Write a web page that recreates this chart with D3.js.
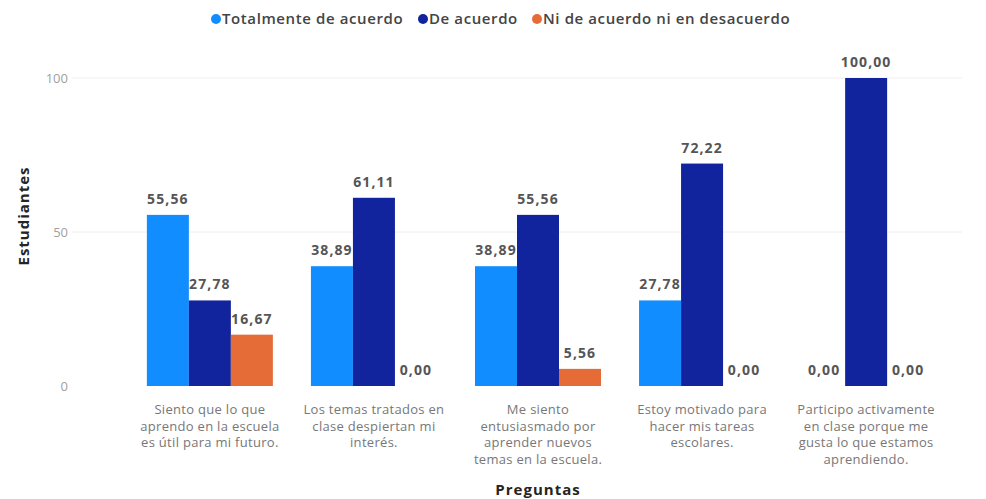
<!DOCTYPE html>
<html>
<head>
<meta charset="utf-8">
<script src="https://cdn.jsdelivr.net/npm/d3@7"></script>
<style>
body { margin: 0; background: #fff; }
svg { font-family: "Open Sans", "DejaVu Sans", sans-serif; }
</style>
</head>
<body>
<svg id="chart" width="986" height="499"></svg>
<script>
// Data
var preguntas = [
    ["Siento que lo que", "aprendo en la escuela", "es útil para mi futuro."],
    ["Los temas tratados en", "clase despiertan mi", "interés."],
    ["Me siento", "entusiasmado por", "aprender nuevos", "temas en la escuela."],
    ["Estoy motivado para", "hacer mis tareas", "escolares."],
    ["Participo activamente", "en clase porque me", "gusta lo que estamos", "aprendiendo."]
];
var series = ["Totalmente de acuerdo", "De acuerdo", "Ni de acuerdo ni en desacuerdo"];
var totalmente = [55.56, 38.89, 38.89, 27.78, 0];
var deAcuerdo = [27.78, 61.11, 55.56, 72.22, 100];
var ni = [16.67, 0, 5.56, 0, 0];
var yTicks = [0, 50, 100];
var colors = ["#118DFF", "#12239E", "#E66C37"];

var values = [totalmente, deAcuerdo, ni];
var svg = d3.select("#chart");

// Scales
var x0 = d3.scaleBand()
    .domain(d3.range(preguntas.length))
    .range([128, 948])
    .paddingInner(0.232)
    .paddingOuter(0.115);
var x1 = d3.scaleBand()
    .domain(d3.range(series.length))
    .range([0, x0.bandwidth()]);
var y = d3.scaleLinear()
    .domain([0, 100])
    .range([386, 78]);

// Gridlines
svg.append("g")
    .selectAll("line")
    .data(yTicks.filter(function(d) { return d > 0; }))
    .enter()
    .append("line")
    .attr("x1", 72)
    .attr("x2", 962)
    .attr("y1", function(d) { return y(d); })
    .attr("y2", function(d) { return y(d); })
    .attr("stroke", "#eeeeee")
    .attr("stroke-width", 1)

// Y axis
var yAxis = svg.append("g")
    .attr("transform", "translate(68,0)")
    .call(d3.axisLeft(y).tickValues(yTicks).tickSize(0).tickPadding(0))
yAxis.select(".domain").remove();
yAxis.selectAll("text")
    .attr("fill", "#a0a0a0")
    .style("font-size", "13px")
    .style("font-family", "\"Open Sans\", sans-serif");

// Bars
var groups = svg.selectAll(".grupo")
    .data(preguntas)
    .enter()
    .append("g")
    .attr("class", "grupo")
    .attr("transform", function(d, i) { return "translate(" + x0(i) + ",0)"; })

groups.selectAll("rect")
    .data(function(d, i) { return values.map(function(s, k) { return {k: k, v: s[i]}; }); })
    .enter()
    .append("rect")
    .attr("x", function(d) { return x1(d.k); })
    .attr("width", x1.bandwidth())
    .attr("y", function(d) { return y(d.v); })
    .attr("height", function(d) { return y(0) - y(d.v); })
    .attr("fill", function(d) { return colors[d.k]; })

groups.selectAll(".valor")
    .data(function(d, i) { return values.map(function(s, k) { return {k: k, v: s[i]}; }); })
    .enter()
    .append("text")
    .attr("class", "valor")
    .attr("x", function(d) { return x1(d.k) + x1.bandwidth() / 2; })
    .attr("y", function(d) { return y(d.v) - 11; })
    .attr("text-anchor", "middle")
    .attr("fill", "#555")
    .style("font-size", "14px")
    .style("font-weight", "bold")
    .style("letter-spacing", "1.1px")
    .text(function(d) { return d.v.toFixed(2).replace(".", ","); })

// Category labels
groups.append("text")
    .attr("text-anchor", "middle")
    .attr("fill", "#777")
    .style("font-size", "13px")
    .style("letter-spacing", "0.3px")
    .selectAll("tspan")
    .data(function(d) { return d; })
    .enter()
    .append("tspan")
    .attr("x", x0.bandwidth() / 2)
    .attr("y", function(d, i) { return 414 + i * 16.5; })
    .text(function(d) { return d; })

// Axis titles
svg.append("text")
    .attr("transform", "translate(29,216) rotate(-90)")
    .attr("text-anchor", "middle")
    .attr("fill", "#252423")
    .style("font-size", "15px")
    .style("font-weight", "bold")
    .style("letter-spacing", "1px")
    .text("Estudiantes")

svg.append("text")
    .attr("x", 538)
    .attr("y", 495)
    .attr("text-anchor", "middle")
    .attr("fill", "#252423")
    .style("font-size", "15px")
    .style("font-weight", "bold")
    .style("letter-spacing", "1px")
    .text("Preguntas")

// Legend
var legendX = [216, 423, 537];
var legend = svg.selectAll(".leyenda")
    .data(series)
    .enter()
    .append("g")
    .attr("class", "leyenda")
    .attr("transform", function(d, i) { return "translate(" + legendX[i] + ",19)"; })
legend.append("circle")
    .attr("r", 5)
    .attr("fill", function(d, i) { return colors[i]; })
legend.append("text")
    .attr("x", 6)
    .attr("y", 5)
    .attr("fill", "#444")
    .style("font-size", "15px")
    .style("font-weight", "600")
    .style("letter-spacing", "0.6px")
    .text(function(d) { return d; })
</script>
</body>
</html>
